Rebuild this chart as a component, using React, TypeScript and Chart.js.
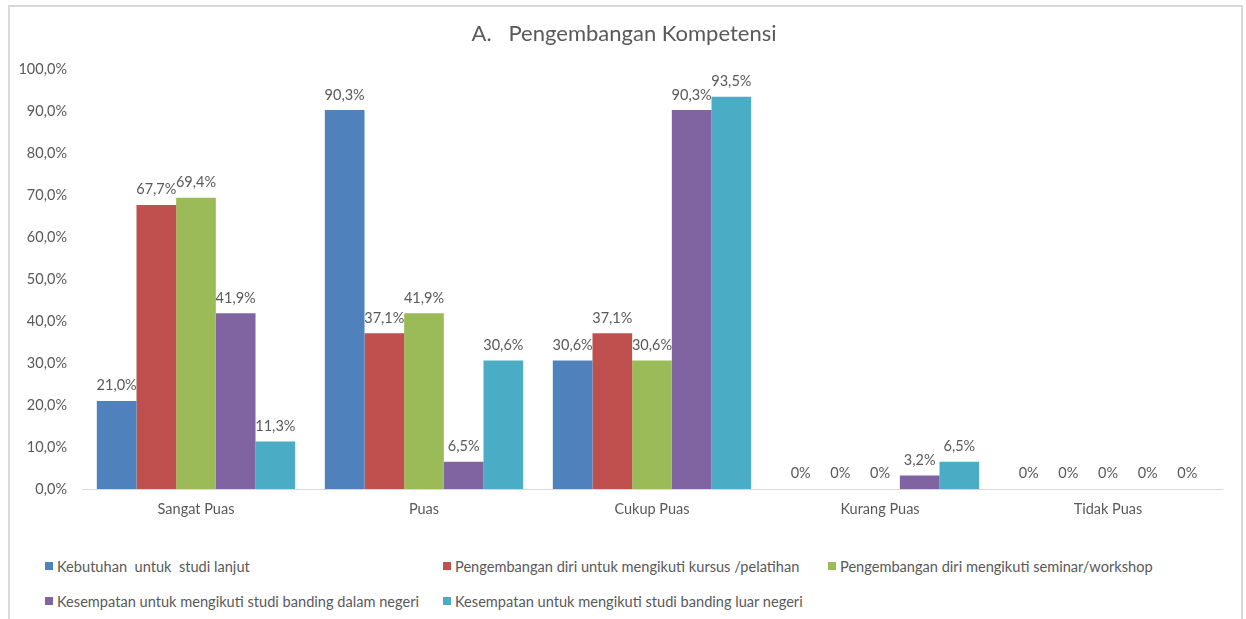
import React, { useEffect, useRef } from "react";
import { Chart, registerables } from "chart.js";

Chart.register(...registerables);

const title = "A.   Pengembangan Kompetensi";
const categories = ["Sangat Puas", "Puas", "Cukup Puas", "Kurang Puas", "Tidak Puas"];
const seriesNames = [
  "Kebutuhan  untuk  studi lanjut",
  "Pengembangan diri untuk mengikuti kursus /pelatihan",
  "Pengembangan diri mengikuti seminar/workshop",
  "Kesempatan untuk mengikuti studi banding dalam negeri",
  "Kesempatan untuk mengikuti studi banding luar negeri",
];
const studiLanjut = [21.0, 90.3, 30.6, 0, 0];
const kursus = [67.7, 37.1, 37.1, 0, 0];
const seminar = [69.4, 41.9, 30.6, 0, 0];
const dalamNegeri = [41.9, 6.5, 90.3, 3.2, 0];
const luarNegeri = [11.3, 30.6, 93.5, 6.5, 0];
const seriesValues = [studiLanjut, kursus, seminar, dalamNegeri, luarNegeri];
const colors = ["#4F81BD", "#C0504D", "#9BBB59", "#8064A2", "#4BACC6"];
const yTicks = [0, 10, 20, 30, 40, 50, 60, 70, 80, 90, 100];

const FONT = "Lato, 'Open Sans', sans-serif";
const TEXT = "#595959";

const fmtPct = (v: number) => (v === 0 ? "0%" : v.toFixed(1).replace(".", ",") + "%");

const dataLabels = {
  id: "dataLabels",
  afterDatasetsDraw(chart: any) {
    const ctx = chart.ctx;
    ctx.save();
    ctx.font = `14.5px ${FONT}`;
    ctx.fillStyle = TEXT;
    ctx.textAlign = "center";
    ctx.textBaseline = "bottom";
    chart.data.datasets.forEach((ds: any, i: number) => {
      const meta = chart.getDatasetMeta(i);
      meta.data.forEach((bar: any, j: number) => {
        ctx.fillText(fmtPct(ds.data[j]), bar.x, bar.y - 8);
      });
    });
    ctx.restore();
  },
};

export default function App() {
  const ref = useRef<HTMLCanvasElement>(null);
  useEffect(() => {
    const chart = new Chart(ref.current!, {
      type: "bar",
      data: {
        labels: categories,
        datasets: seriesValues.map((vals, i) => ({
          label: seriesNames[i],
          data: vals,
          backgroundColor: colors[i],
          borderWidth: 0,
          barPercentage: 1,
          categoryPercentage: 0.87,
          yAxisID: "y",
        })),
      },
      options: {
        animation: false,
        responsive: false,
        maintainAspectRatio: false,
        layout: { padding: { left: 10, right: 8, top: 0, bottom: 21 } },
        plugins: {
          legend: { display: false },
          tooltip: { enabled: false },
          title: {
            display: true,
            text: title,
            color: TEXT,
            font: { family: FONT, size: 22, weight: "normal" },
            padding: { top: 21, bottom: 22 },
          },
        },
        scales: {
          x: {
            grid: { display: false, drawTicks: false },
            border: { display: true, color: "#D9D9D9", width: 1 },
            ticks: { color: TEXT, font: { family: FONT, size: 14.5 }, padding: 12 },
            afterFit: (s: any) => {
              s.height = 30;
            },
          },
          y: {
            min: 0,
            max: 100,
            grid: { display: false, drawTicks: false },
            border: { display: false },
            afterBuildTicks: (s: any) => {
              s.ticks = yTicks.map((v) => ({ value: v }));
            },
            ticks: {
              color: TEXT,
              font: { family: FONT, size: 14.5 },
              padding: 15,
              callback: (v: any) => Number(v).toFixed(1).replace(".", ",") + "%",
            },
            afterFit: (s: any) => {
              s.width = 72;
            },
          },
          yRight: {
            position: "right",
            min: 0,
            max: 100,
            grid: { display: false, drawTicks: false },
            border: { display: false },
            ticks: { display: false },
            afterFit: (s: any) => {
              s.width = 16;
            },
          },
        },
      },
      plugins: [dataLabels],
    });
    return () => chart.destroy();
  }, []);

  const legendPos = [
    [45, 566],
    [443, 566],
    [828, 566],
    [45, 601],
    [443, 601],
  ];

  return (
    <div style={{ position: "absolute", left: 0, top: 0, width: 1246, height: 619, overflow: "hidden", background: "#fff" }}>
      <div
        style={{
          position: "absolute",
          left: 8,
          top: 5,
          width: 1231,
          height: 700,
          border: "2px solid #D9D9D9",
        }}
      />
      <canvas ref={ref} width={1246} height={540} style={{ position: "absolute", left: 0, top: 0, width: 1246, height: 540 }} />
      {seriesNames.map((name, i) => (
        <div
          key={i}
          style={{
            position: "absolute",
            left: legendPos[i][0],
            top: legendPos[i][1] - 10,
            height: 20,
            display: "flex",
            alignItems: "center",
            fontFamily: FONT,
            fontSize: 14.6,
            color: TEXT,
            whiteSpace: "pre",
          }}
        >
          <span style={{ display: "inline-block", width: 8, height: 8, background: colors[i], marginRight: 4 }} />
          {name}
        </div>
      ))}
    </div>
  );
}
